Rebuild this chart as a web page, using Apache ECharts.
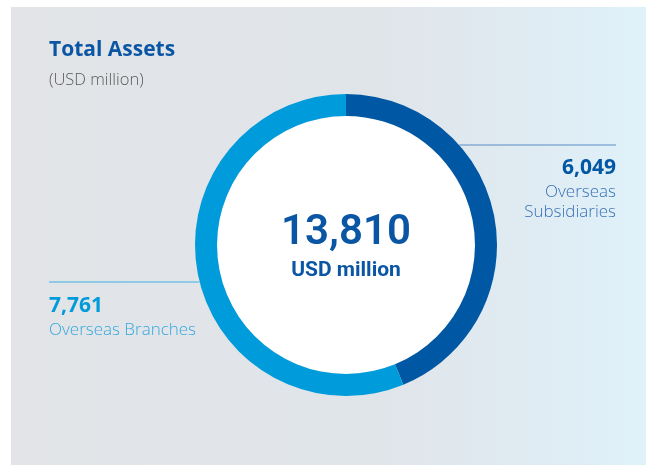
<!DOCTYPE html>
<html>
<head>
<meta charset="utf-8">
<script src="https://cdn.jsdelivr.net/npm/echarts@6/dist/echarts.min.js"></script>
<style>
  html, body { margin: 0; padding: 0; background: #ffffff; }
  #chart { width: 646px; height: 465px; }
</style>
</head>
<body>
<div id="chart"></div>
<script>
// Total assets split (USD million)
const categories = ['Overseas Subsidiaries', 'Overseas Branches'];
const labelLines = [['Overseas', 'Subsidiaries'], ['Overseas Branches']];
const values = [6049, 7761];
const colors = ['#0057a3', '#009bdb'];
const textColors = ['#3a72b6', '#33a8df'];
const lineColors = ['#5a8cc5', '#3db0e2'];

const total = values.reduce((a, b) => a + b, 0);
const fmt = v => v.toLocaleString('en-US');

const chart = echarts.init(document.getElementById('chart'), null, { renderer: 'canvas' });

const cx = 346, cy = 245, rOut = 151, rIn = 129;

chart.setOption({
  animation: false,
  backgroundColor: '#ffffff',
  graphic: [
    {
      type: 'rect', z: -10,
      shape: { x: 11, y: 7, width: 635, height: 458 },
      style: {
        fill: new echarts.graphic.LinearGradient(0, 0, 1, 0, [
          { offset: 0, color: '#e2e4e7' },
          { offset: 0.6, color: '#e0e5ea' },
          { offset: 1, color: '#dff1fa' }
        ])
      }
    },
    {
      type: 'circle', z: 1,
      shape: { cx: cx, cy: cy, r: rIn },
      style: { fill: '#ffffff' }
    },
    {
      type: 'text', left: 49, top: 40, z: 5,
      style: { text: 'Total Assets', fill: '#0a56a4', font: 'bold 21px "Open Sans"' }
    },
    {
      type: 'text', left: 49, top: 72, z: 5,
      style: { text: '(USD million)', fill: '#5a5a5a', font: '300 16.5px "Open Sans"' }
    },
    {
      type: 'text', z: 5, x: cx, y: 233,
      style: { text: fmt(total), fill: '#0a56a4', font: '600 42px Roboto', align: 'center', verticalAlign: 'middle' }
    },
    {
      type: 'text', z: 5, x: cx, y: 271,
      style: { text: 'USD million', fill: '#0a56a4', font: 'bold 21px Roboto', align: 'center', verticalAlign: 'middle' }
    }
  ],
  series: [{
    type: 'pie',
    center: [cx, cy],
    radius: [rIn, rOut],
    startAngle: 90,
    clockwise: true,
    silent: true,
    z: 2,
    data: categories.map((c, i) => ({
      name: c,
      value: values[i],
      itemStyle: { color: colors[i] },
      label: {
        formatter: '{v|' + fmt(values[i]) + '}\n' + labelLines[i].map(s => '{n|' + s + '}').join('\n'),
        rich: {
          v: { fontFamily: 'Open Sans', fontWeight: 'bold', fontSize: 21, lineHeight: 28, color: colors[i], align: i === 0 ? 'right' : 'left' },
          n: { fontFamily: 'Open Sans', fontWeight: 300, fontSize: 17, lineHeight: 20, color: textColors[i], align: i === 0 ? 'right' : 'left' }
        }
      },
      labelLine: { lineStyle: { color: lineColors[i], width: 1 } }
    })),
    label: { show: true, position: 'outside' },
    labelLine: { show: true, length: 10, length2: 10, smooth: false },
    labelLayout: function (p) {
      if (p.dataIndex === 0) {
        const y = 145;
        const x0 = cx + Math.sqrt(rOut * rOut - (y - cy) * (y - cy));
        return {
          x: 616, y: 154, align: 'right', verticalAlign: 'top',
          labelLinePoints: [[x0, y], [x0 + 1, y], [616, y]]
        };
      } else {
        const y = 282;
        const x0 = cx - Math.sqrt(rOut * rOut - (y - cy) * (y - cy));
        return {
          x: 49, y: 292, align: 'left', verticalAlign: 'top',
          labelLinePoints: [[x0, y], [x0 - 1, y], [49, y]]
        };
      }
    }
  }]
});
</script>
</body>
</html>
